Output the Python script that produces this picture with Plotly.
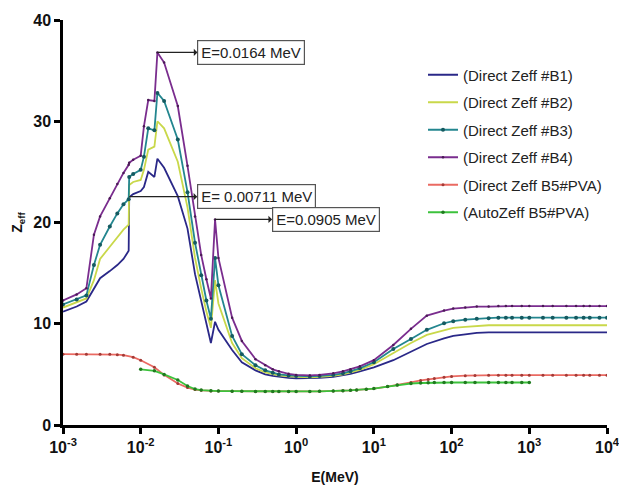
import math
import plotly.graph_objects as go

# ---------------- data ----------------
energy_b = [0.001, 0.0015, 0.002, 0.0025, 0.003, 0.004, 0.005, 0.006, 0.007, 0.00711,
            0.008, 0.01, 0.011, 0.0125, 0.015, 0.0164, 0.02, 0.03, 0.04, 0.05, 0.06,
            0.07, 0.08, 0.0905, 0.1, 0.15, 0.2, 0.3, 0.4, 0.5, 0.6, 0.8, 1, 1.5, 2, 3,
            4, 5, 6.6, 10, 17.8, 30, 48, 80, 105, 150, 211, 300, 400, 500, 600, 800,
            1000, 1500, 2000, 3000, 4000, 5000, 6000, 8000, 10000]

zeff_b1 = [11.2, 11.7, 12.2, 13.5, 14.5, 15.2, 15.8, 16.4, 17.2, 22.5,
           22.8, 23.1, 23.5, 25.0, 24.5, 26.3, 25.4, 22.6, 19.4, 14.9, 12.2,
           10.0, 8.1, 10.2, 9.4, 7.4, 6.2, 5.4, 5.0, 4.85, 4.75, 4.65, 4.6, 4.6, 4.65, 4.75,
           4.9, 5.05, 5.3, 5.7, 6.4, 7.2, 8.0, 8.55, 8.8, 8.95, 9.1, 9.15, 9.15, 9.15, 9.15, 9.15,
           9.15, 9.15, 9.15, 9.15, 9.15, 9.15, 9.15, 9.15, 9.15]

zeff_b2 = [11.6, 12.1, 12.5, 14.3, 16.4, 17.6, 18.5, 19.3, 19.8, 23.7,
           24.0, 24.2, 25.2, 27.2, 27.5, 30.0, 29.3, 26.0, 21.5, 16.5, 13.5,
           11.2, 9.6, 14.3, 12.0, 8.1, 6.6, 5.6, 5.2, 5.0, 4.9, 4.8, 4.75, 4.7, 4.75, 4.85,
           5.0, 5.2, 5.45, 6.0, 7.1, 8.1, 8.9, 9.4, 9.6, 9.7, 9.8, 9.85, 9.85, 9.85, 9.85, 9.85,
           9.85, 9.85, 9.85, 9.85, 9.85, 9.85, 9.85, 9.85, 9.85]

zeff_b3 = [11.9, 12.4, 12.8, 15.8, 17.8, 19.6, 20.9, 21.8, 22.3, 24.5,
           24.8, 25.2, 26.5, 29.3, 29.1, 32.8, 32.0, 28.2, 23.0, 18.0, 14.8,
           12.3, 10.5, 16.5, 13.8, 8.8, 7.0, 5.9, 5.4, 5.15, 5.0, 4.9, 4.85, 4.8, 4.85, 4.95,
           5.1, 5.3, 5.6, 6.2, 7.5, 8.5, 9.4, 10.05, 10.25, 10.4, 10.5, 10.55, 10.6, 10.6, 10.6, 10.6,
           10.6, 10.6, 10.6, 10.6, 10.6, 10.6, 10.6, 10.6, 10.6]

zeff_b4 = [12.3, 12.9, 13.5, 18.8, 20.6, 22.4, 23.8, 24.9, 25.7, 25.9,
           26.2, 26.6, 29.5, 32.1, 32.0, 36.8, 35.8, 31.5, 25.6, 20.6, 16.8,
           14.4, 12.5, 20.3, 16.5, 10.6, 8.3, 6.5, 5.9, 5.5, 5.3, 5.05, 4.95, 4.9, 4.95, 5.1,
           5.3, 5.5, 5.8, 6.4, 7.9, 9.5, 10.8, 11.3, 11.5, 11.6, 11.7, 11.7, 11.75, 11.75, 11.75, 11.75,
           11.75, 11.75, 11.75, 11.75, 11.75, 11.75, 11.75, 11.75, 11.75]

energy_pva = [0.001, 0.0015, 0.002, 0.003, 0.004, 0.005, 0.006, 0.008, 0.01, 0.015, 0.02,
              0.03, 0.04, 0.05, 0.06, 0.08, 0.1, 0.15, 0.2, 0.3, 0.4, 0.5, 0.6, 0.8, 1,
              1.5, 2, 3, 4, 5, 6, 8, 10, 15, 20, 30, 40, 50, 60, 80, 100, 150, 200, 300,
              400, 500, 600, 800, 1000, 1500, 2000, 3000, 4000, 5000, 6000, 8000, 10000]
zeff_pva = [7.0, 7.0, 7.0, 7.0, 7.0, 6.95, 6.9, 6.7, 6.4, 5.7, 4.95,
            4.1, 3.7, 3.5, 3.42, 3.37, 3.35, 3.34, 3.33, 3.32, 3.32, 3.32, 3.32, 3.32, 3.32,
            3.32, 3.33, 3.35, 3.38, 3.42, 3.46, 3.53, 3.6, 3.8, 3.95, 4.2, 4.4, 4.5, 4.6, 4.72,
            4.8, 4.87, 4.9, 4.92, 4.92, 4.92, 4.92, 4.92, 4.92, 4.92, 4.92, 4.92, 4.92,
            4.92, 4.92, 4.92, 4.92]

energy_auto = [0.01, 0.015, 0.02, 0.03, 0.04, 0.05, 0.06, 0.08, 0.1, 0.15, 0.2, 0.3,
               0.4, 0.5, 0.6, 0.8, 1, 1.5, 2, 3, 4, 5, 6, 8, 10, 15, 20, 30, 40, 50,
               60, 80, 100, 150, 200, 300, 400, 500, 600, 800, 1000]
zeff_auto = [5.5, 5.35, 5.0, 4.45, 3.85, 3.55, 3.45, 3.38, 3.35, 3.34, 3.33, 3.32,
             3.32, 3.32, 3.32, 3.32, 3.32, 3.32, 3.33, 3.35, 3.38, 3.42, 3.46, 3.53, 3.6,
             3.8, 3.95, 4.1, 4.15, 4.18, 4.2, 4.2, 4.2, 4.2, 4.2, 4.2, 4.2, 4.2, 4.2, 4.2, 4.2]

series_names = ["(Direct Zeff #B1)", "(Direct Zeff #B2)", "(Direct Zeff #B3)",
                "(Direct Zeff #B4)", "(Direct Zeff B5#PVA)", "(AutoZeff B5#PVA)"]

x_tickvals = [0.001, 0.01, 0.1, 1, 10, 100, 1000, 10000]
x_ticktext = ["10<sup>-3</sup>", "10<sup>-2</sup>", "10<sup>-1</sup>", "10<sup>0</sup>",
              "10<sup>1</sup>", "10<sup>2</sup>", "10<sup>3</sup>", "10<sup>4</sup>"]
y_tickvals = [0, 10, 20, 30, 40]

# annotated edges: (energy, Zeff of arrow tail, label)
ann_energy = [0.0164, 0.00711, 0.0905]
ann_zeff = [36.8, 22.55, 20.3]
ann_text = ["E=0.0164 MeV", "E= 0.00711 MeV", "E=0.0905 MeV"]
ann_offset_px = [40, 68, 57]

# ---------------- figure ----------------
FONT = "Arial, Liberation Sans, sans-serif"
fig = go.Figure()

styles = [
    dict(x=energy_b, y=zeff_b1, color="#2a2888", marker=None),
    dict(x=energy_b, y=zeff_b2, color="#c9d84a", marker=None),
    dict(x=energy_b, y=zeff_b3, color="#23868f", marker=dict(size=4, color="#155a60")),
    dict(x=energy_b, y=zeff_b4, color="#7a2d8e", marker=dict(size=2.5, color="#4a1a55")),
    dict(x=energy_pva, y=zeff_pva, color="#ea6a62", marker=dict(size=3, color="#a33a36")),
    dict(x=energy_auto, y=zeff_auto, color="#3cc23c", marker=dict(size=3.5, color="#1f7a1f")),
]

for i, (s, name) in enumerate(zip(styles, series_names)):
    kw = dict(x=s["x"], y=s["y"], name=name, legendgroup=f"g{i}",
              line=dict(color=s["color"], width=1.8))
    if s["marker"] is None:
        kw["mode"] = "lines"
    else:
        kw["mode"] = "lines+markers"
        kw["marker"] = s["marker"]
    fig.add_trace(go.Scatter(**kw))

for xe, ye, txt, ax in zip(ann_energy, ann_zeff, ann_text, ann_offset_px):
    fig.add_annotation(x=math.log10(xe), y=ye, xref="x", yref="y", text=txt,
                       showarrow=True, arrowside="start", arrowhead=2, arrowsize=1.4,
                       arrowwidth=1.2, arrowcolor="#222222",
                       ax=ax, ay=0, axref="pixel", ayref="pixel",
                       xanchor="left", yanchor="middle",
                       bordercolor="#555555", borderwidth=1.2, borderpad=3,
                       bgcolor="white",
                       font=dict(family=FONT, size=15, color="#222222"))

fig.update_layout(
    width=619, height=485,
    margin=dict(l=63, r=12, t=20, b=60),
    paper_bgcolor="white", plot_bgcolor="white",
    font=dict(family=FONT, color="#111111"),
    showlegend=True,
    legend=dict(x=1.0, y=0.905, xanchor="right", yanchor="top",
                font=dict(family=FONT, size=15, color="#222222"),
                tracegroupgap=5, itemwidth=30, bgcolor="rgba(0,0,0,0)"),
    xaxis=dict(type="log", range=[-3, 4], tickvals=x_tickvals, ticktext=x_ticktext,
               automargin=False, ticklabeloverflow="allow",
               showgrid=False, zeroline=False, showline=True, linecolor="black", linewidth=2.5,
               ticks="outside", ticklen=6, tickwidth=2.5, tickcolor="black",
               tickfont=dict(family=FONT, size=16, color="#111111", weight="bold"),
               title=dict(text="E(MeV)", font=dict(family=FONT, size=14, color="#111111", weight="bold"),
                          standoff=24)),
    yaxis=dict(range=[0, 40], tickvals=y_tickvals, automargin=False,
               showgrid=False, zeroline=False, showline=True, linecolor="black", linewidth=2.5,
               ticks="outside", ticklen=6, tickwidth=2.5, tickcolor="black",
               tickfont=dict(family=FONT, size=16, color="#111111", weight="bold"),
               title=dict(text="Z<sub>eff</sub>", font=dict(family=FONT, size=14, color="#111111", weight="bold"),
                          standoff=8)),
)

fig.write_html("out.html", config={"displayModeBar": False},
               post_script="document.body.style.margin='0';")
